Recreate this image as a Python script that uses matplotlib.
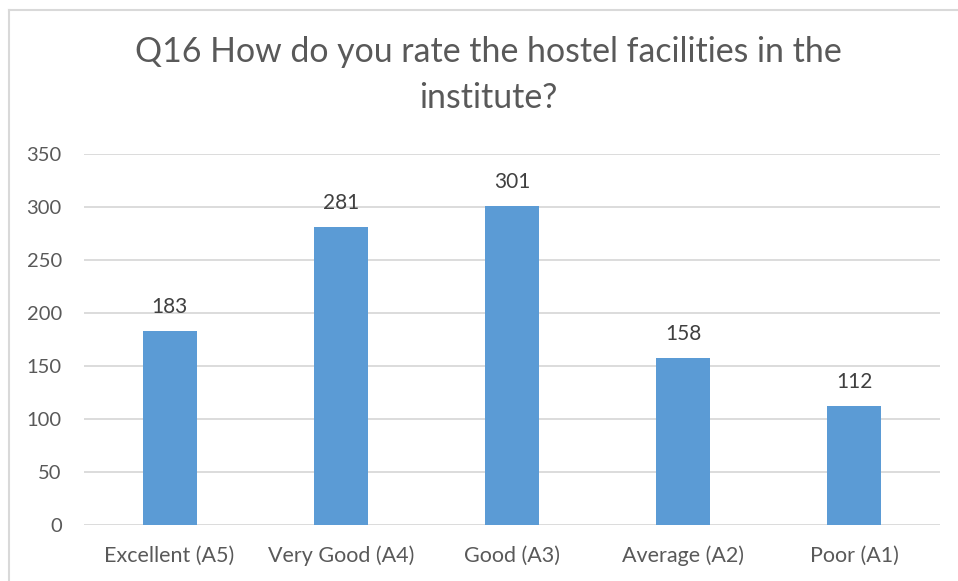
import matplotlib
matplotlib.use("Agg")
import matplotlib.pyplot as plt
from matplotlib.lines import Line2D

categories = ["Excellent (A5)", "Very Good (A4)", "Good (A3)", "Average (A2)", "Poor (A1)"]
values = [183, 281, 301, 158, 112]
yticks = [0, 50, 100, 150, 200, 250, 300, 350]
title = "Q16 How do you rate the hostel facilities in the\ninstitute?"

plt.rcParams['font.family'] = ['Lato', 'DejaVu Sans']
txt = '#595959'

fig = plt.figure(figsize=(9.58, 5.81), dpi=100)
W, H = 958, 581
ax = fig.add_axes([84 / W, 1 - 525 / H, (940 - 84) / W, (525 - 154) / H])

x = list(range(len(categories)))
bars = ax.bar(x, values, width=0.315, color='#5B9BD5', zorder=3)
for xi, v in zip(x, values):
    ax.annotate(str(v), (xi, v), xytext=(0, 10), textcoords='offset points',
                ha='center', va='bottom', fontsize=15, color='#404040')

ax.set_xlim(-0.5, len(categories) - 0.5)
ax.set_ylim(0, 350)
ax.set_yticks(yticks)
ax.set_xticks(x)
ax.set_xticklabels(categories)
ax.grid(axis='y', color='#D9D9D9', linewidth=1.3, zorder=0)
for s in ax.spines.values():
    s.set_visible(False)
ax.tick_params(axis='both', length=0, colors=txt)
ax.tick_params(axis='y', labelsize=14.5, pad=16)
ax.tick_params(axis='x', labelsize=15.5, pad=15)

fig.text(488 / W, 1 - 75 / H, title, ha='center', va='center', fontsize=24.4,
         color=txt, linespacing=1.55)

fig.lines.append(Line2D([8.5 / W, 8.5 / W], [0, 1 - 10 / H], transform=fig.transFigure,
                        color='#D9D9D9', linewidth=1.5))
fig.lines.append(Line2D([8.5 / W, 1], [1 - 10 / H, 1 - 10 / H], transform=fig.transFigure,
                        color='#D9D9D9', linewidth=1.5))

fig.savefig("out.png", dpi=100)
